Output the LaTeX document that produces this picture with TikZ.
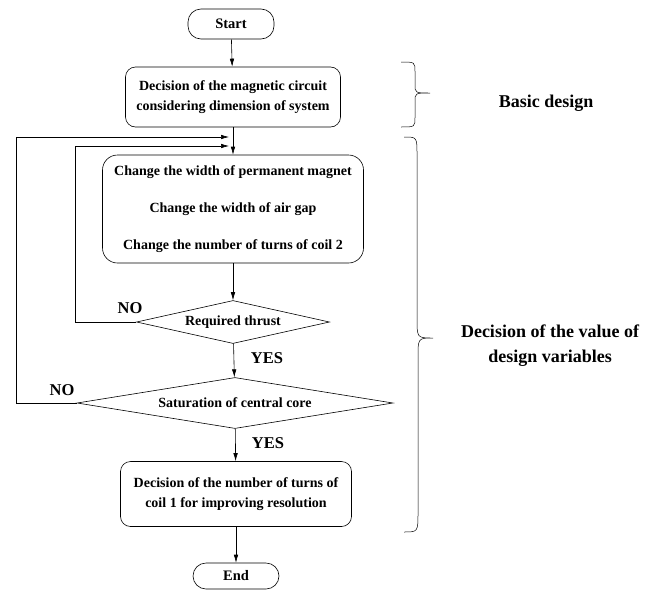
\documentclass[tikz,border=0pt]{standalone}
\usepackage{fontspec}
\setmainfont{Liberation Serif}
\usepackage{tikz}
\usetikzlibrary{arrows.meta}
\usetikzlibrary{shapes.geometric}

\tikzset{
  boxfont/.style={font=\bfseries\fontsize{14}{19.5}\selectfont},
  terminal/.style={draw, line width=0.6pt, rounded corners=13pt, font=\bfseries\fontsize{14.5}{16}\selectfont, minimum width=86pt, minimum height=30pt, inner sep=0pt},
  process/.style={draw, line width=0.6pt, rounded corners=10pt, boxfont, align=center, inner sep=0pt},
  decision/.style={draw, line width=0.6pt, diamond, aspect=6, font=\bfseries\fontsize{14}{16}\selectfont, inner sep=0pt},
  flow/.style={line width=0.6pt, -{Latex[length=8pt, width=4.5pt]}},
  answer/.style={font=\bfseries\fontsize{16.5}{18}\selectfont},
  phase/.style={font=\bfseries\fontsize{18}{25}\selectfont, align=center},
  bracket/.style={line width=0.5pt}
}

\begin{document}
\begin{tikzpicture}[x=1pt, y=-1pt]
  \useasboundingbox (0,0) rectangle (660,589);

  \node[terminal]                                          (start)  at (231, 24) {Start};
  \node[process, minimum width=215pt, minimum height=60pt]  (basic)  at (233, 97)
       {Decision of the magnetic circuit\\considering dimension of system};
  \node[process, rounded corners=15pt, minimum width=261pt, minimum height=108pt,
        font=\bfseries\fontsize{14}{37}\selectfont]        (change) at (233,209)
       {Change the width of permanent magnet\\Change the width of air gap\\Change the number of turns of coil 2};
  \node[decision, minimum width=193pt, minimum height=43pt] (thrust) at (233,322) {Required thrust};
  \node[decision, minimum width=316pt, minimum height=51pt] (satur)  at (235,403) {Saturation of central core};
  \node[process, minimum width=231pt, minimum height=65pt]  (coil)   at (236,494)
       {Decision of the number of turns of\\coil 1 for improving resolution};
  \node[terminal, minimum height=26pt]                      (finish) at (236,576) {End};

  \coordinate (inouter) at (229,137);
  \coordinate (ininner) at (229,146);

  \draw[flow] (start)  -- (basic);
  \draw[flow] (basic)  -- (change);
  \draw[flow] (change) -- (thrust);
  \draw[flow] (thrust) -- (satur);
  \draw[flow] (satur)  -- (coil);
  \draw[flow] (coil)   -- (finish);

  \draw[flow] (thrust.west) -| (75,146) -- (ininner);
  \draw[flow] (satur.west)  -| (16,137) -- (inouter);

  \node[answer] (no1)  at (130,308) {NO};
  \node[answer] (yes1) at (267,358) {YES};
  \node[answer] (no2)  at ( 62,390) {NO};
  \node[answer] (yes2) at (268,443) {YES};

  \draw[bracket] (401, 62) .. controls (415, 62) .. (415, 72) -- (415, 84)
                 .. controls (415, 93) .. (430, 93) .. controls (415, 93) .. (415,102)
                 -- (415,117) .. controls (415,127) .. (401,127);
  \draw[bracket] (404,137) .. controls (417,137) .. (417,155) -- (417,318)
                 .. controls (417,338) .. (433,338) .. controls (418,338) .. (418,358)
                 -- (418,512) .. controls (418,532) .. (404,532);

  \node[phase] (basiclbl) at (546,103) {Basic design};
  \node[phase] (varlbl)   at (550,346) {Decision of the value of\\design variables};
\end{tikzpicture}
\end{document}
